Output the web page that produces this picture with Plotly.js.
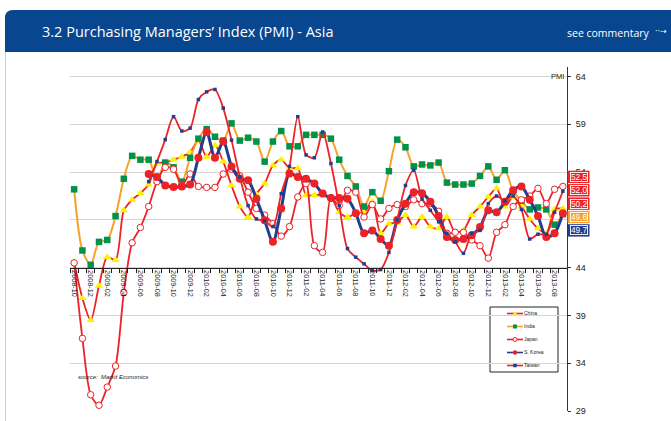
<!DOCTYPE html>
<html>
<head>
<meta charset="utf-8">
<script src="https://cdn.plot.ly/plotly-3.0.1.min.js"></script>
<style>
html,body{margin:0;padding:0;background:#ffffff;}
#chart{width:671px;height:421px;}
</style>
</head>
<body>
<div id="chart"></div>
<script>
// ---------------- DATA ----------------
const months = [
  "2008-10","2008-11","2008-12",
  "2009-01","2009-02","2009-03","2009-04","2009-05","2009-06","2009-07","2009-08","2009-09","2009-10","2009-11","2009-12",
  "2010-01","2010-02","2010-03","2010-04","2010-05","2010-06","2010-07","2010-08","2010-09","2010-10","2010-11","2010-12",
  "2011-01","2011-02","2011-03","2011-04","2011-05","2011-06","2011-07","2011-08","2011-09","2011-10","2011-11","2011-12",
  "2012-01","2012-02","2012-03","2012-04","2012-05","2012-06","2012-07","2012-08","2012-09","2012-10","2012-11","2012-12",
  "2013-01","2013-02","2013-03","2013-04","2013-05","2013-06","2013-07","2013-08","2013-09"
];

const seriesNames = ["China", "India", "Japan", "S. Korea", "Taiwan"];

const china = [44.6, 40.8, 38.5, 42.1, 45.1, 44.8, 50.0, 51.1, 51.8, 52.7,
  54.9, 55.0, 55.3, 55.6, 56.1, 57.3, 55.6, 56.8, 55.1, 52.6,
  50.4, 49.3, 51.7, 52.8, 54.7, 55.3, 54.4, 54.4, 51.6, 51.6,
  51.6, 51.4, 49.8, 49.3, 49.7, 49.8, 50.9, 47.6, 48.6, 48.7,
  49.5, 48.3, 49.3, 48.3, 48.1, 49.3, 47.7, 47.9, 49.5, 50.4,
  51.4, 52.3, 50.4, 51.4, 50.4, 49.1, 48.1, 47.6, 50.1, 50.2];

const india = [52.2, 45.8, 44.3, 46.7, 46.9, 49.4, 53.3, 55.7, 55.3, 55.3,
  53.1, 55.0, 54.5, 53.0, 55.5, 57.5, 58.5, 57.7, 57.3, 59.1,
  57.3, 57.6, 57.2, 55.1, 57.2, 58.3, 56.7, 56.7, 57.9, 57.9,
  57.9, 57.5, 55.3, 53.6, 52.5, 50.4, 51.9, 51.0, 54.1, 57.4,
  56.6, 54.6, 54.8, 54.7, 55.0, 52.9, 52.7, 52.7, 52.8, 53.6,
  54.6, 53.2, 54.2, 52.0, 51.0, 50.1, 50.3, 50.1, 48.5, 49.6];

const japan = [44.5, 36.6, 30.7, 29.6, 31.5, 33.7, 41.4, 46.6, 48.2, 50.4,
  53.0, 54.5, 54.3, 52.6, 53.8, 52.5, 52.4, 52.4, 53.8, 54.3,
  53.6, 51.9, 50.2, 49.5, 48.6, 47.3, 48.3, 51.4, 52.8, 46.3,
  45.6, 51.3, 50.5, 52.1, 51.9, 49.3, 50.6, 49.1, 50.2, 50.6,
  50.4, 51.1, 50.7, 50.7, 49.9, 47.6, 47.7, 47.7, 46.9, 46.3,
  45.0, 47.7, 48.5, 50.4, 51.1, 51.5, 52.3, 50.7, 52.2, 52.5];

const korea = [null, null, null, null, null, null, null, null, null,
  53.8, 53.5, 52.6, 52.45, 52.5, 52.7, 55.5, 58.2, 55.5, 57.2, 54.6,
  53.3, 53.15, 51.2, 48.95, 46.7, 50.2, 53.85, 53.5, 53.3, 52.8,
  51.75, 51.3, 51.3, 51.2, 49.7, 47.6, 47.9, 47.0, 46.3, 49.0,
  50.7, 51.9, 51.8, 50.9, 49.4, 47.2, 46.9, 47.0, 47.4, 48.25,
  50.0, 49.8, 50.9, 52.1, 52.5, 51.1, 49.4, 47.2, 47.6, 49.7];

const taiwan = [null, null, null, null, null, null, null, null, null,
  53.0, 55.1, 57.4, 59.8, 58.3, 58.6, 61.6, 62.4, 62.65, 60.7, 57.35,
  53.5, 50.5, 49.1, 48.9, 48.3, 51.75, 54.6, 59.8, 55.8, 55.5,
  58.2, 54.9, 50.5, 46.0, 45.1, 44.4, 43.7, 43.8, 45.6, 49.0,
  52.6, 54.2, 51.2, 50.0, 48.8, 47.6, 46.7, 45.5, 47.6, 47.9,
  50.7, 51.5, 51.0, 51.5, 50.1, 47.0, 47.5, 47.5, 49.8, 52.0];

const yTickLabels = [29, 34, 39, 44, 49, 54, 59, 64];

// end-value boxes in the order shown, top to bottom
const boxOrder = ["Japan", "Taiwan", "China", "India", "S. Korea"];

// ---------------- STYLE ----------------
const W = 671, H = 421, L = 70, R = 104, T = 67, B = 10;
const PW = W - L - R, PH = H - T - B;
const px = v => (v - L) / PW;
const py = v => (H - B - v) / PH;
const yMin = 29, yMax = 65, axisCross = 44;
const unitPx = PH / (yMax - yMin);

const RED = "#ec2227", YELLOW = "#fff200", ORANGE = "#f7a12a",
      GREEN = "#00914a", NAVY = "#223f8f", BAND = "#08468f";
const FONT = "Liberation Sans, Arial, sans-serif";

const styles = {
  "China":   {line: {color: RED, width: 1.8}, marker: {symbol: "triangle-up", size: 7.5, color: YELLOW}, lsize: 4.5},
  "India":   {line: {color: ORANGE, width: 2}, marker: {symbol: "square", size: 6.5, color: GREEN}, lsize: 4},
  "Japan":   {line: {color: RED, width: 1.8}, marker: {symbol: "circle", size: 6.5, color: "#ffffff", line: {color: RED, width: 1}}, lsize: 4},
  "S. Korea":{line: {color: NAVY, width: 3}, marker: {symbol: "circle", size: 8, color: RED}, lsize: 4.5},
  "Taiwan":  {line: {color: RED, width: 1.8}, marker: {symbol: "square", size: 3.5, color: NAVY}, lsize: 3.5}
};
const seriesData = {"China": china, "India": india, "Japan": japan, "S. Korea": korea, "Taiwan": taiwan};
const boxColors = {"Japan": RED, "Taiwan": RED, "China": RED, "India": ORANGE, "S. Korea": NAVY};

const traces = [];
seriesNames.forEach(name => {
  const s = styles[name];
  traces.push({
    type: "scatter", mode: "lines+markers", name: name,
    x: months, y: seriesData[name],
    line: Object.assign({shape: "spline", smoothing: 0.8}, s.line),
    marker: s.marker, showlegend: false, hoverinfo: "skip",
    xaxis: "x", yaxis: "y"
  });
});

// inset legend drawn on its own small axes
seriesNames.forEach((name, i) => {
  const s = styles[name];
  traces.push({type: "scatter", mode: "lines", x: [17, 33], y: [i, i], xaxis: "x2", yaxis: "y2",
    line: {color: s.line.color, width: 1.6}, showlegend: false, hoverinfo: "skip"});
  traces.push({type: "scatter", mode: "markers", x: [25], y: [i], xaxis: "x2", yaxis: "y2",
    marker: Object.assign({}, s.marker, {size: s.lsize}), showlegend: false, hoverinfo: "skip"});
});
traces.push({type: "scatter", mode: "text", x: seriesNames.map(() => 34), y: seriesNames.map((n, i) => i),
  text: seriesNames, textposition: "middle right", textfont: {family: FONT, size: 5, color: "#222"},
  xaxis: "x2", yaxis: "y2", showlegend: false, hoverinfo: "skip"});

// end value boxes (outer coloured frame + inner box with white rule)
const lastVal = name => { const a = seriesData[name]; return a[a.length - 1]; };
const boxTop = 53.5, boxGap = 1.4, boxCx = 578.5, boxW = 22, boxH = 12.4;
const boxAnn = [], boxShapes = [];
boxOrder.forEach((name, k) => {
  const yc = boxTop - k * boxGap;
  boxShapes.push({type: "rect", xref: "paper", yref: "y", layer: "above",
    x0: px(boxCx - boxW / 2), x1: px(boxCx + boxW / 2),
    y0: yc - boxH / 2 / unitPx, y1: yc + boxH / 2 / unitPx,
    fillcolor: boxColors[name], line: {width: 0}});
  boxAnn.push({
    xref: "paper", yref: "y", x: px(boxCx), y: yc,
    xanchor: "center", yanchor: "middle", showarrow: false,
    text: lastVal(name).toFixed(1).replace(".", ","),
    font: {family: FONT, size: 8.3, color: "#ffffff"},
    width: 16, height: 7.5, bgcolor: boxColors[name], bordercolor: "#ffffff", borderwidth: 0.9, borderpad: 0.3
  });
});

const layout = {
  width: W, height: H,
  margin: {l: L, r: R, t: T, b: B, pad: 0},
  paper_bgcolor: "#ffffff", plot_bgcolor: "rgba(0,0,0,0)",
  showlegend: false,
  xaxis: {
    type: "category", categoryorder: "array", categoryarray: months,
    range: [-0.5, months.length - 0.5],
    anchor: "free", position: (axisCross - yMin) / (yMax - yMin),
    showline: true, linecolor: "#222", linewidth: 1,
    ticks: "outside", ticklen: 4, tickcolor: "#222", tickwidth: 1, tickson: "boundaries",
    tickmode: "array", tickvals: months, ticktext: months.map((m, i) => i % 2 === 0 ? m : ""),
    tickangle: 90, tickfont: {family: FONT, size: 7.3, color: "#222"},
    showgrid: false, zeroline: false, fixedrange: true
  },
  yaxis: {
    range: [yMin, yMax], side: "right", anchor: "x",
    tickmode: "array", tickvals: yTickLabels, ticktext: yTickLabels.map(String),
    showgrid: true, gridcolor: "#d5d5d5", gridwidth: 1,
    showline: true, linecolor: "#333", linewidth: 1,
    ticks: "outside", ticklen: 3, tickcolor: "#333", ticklabelstandoff: 3,
    tickfont: {family: FONT, size: 9, color: "#222"},
    zeroline: false, fixedrange: true
  },
  xaxis2: {domain: [px(490), px(558)], range: [0, 68], anchor: "y2", visible: false, fixedrange: true},
  yaxis2: {domain: [py(372), py(307)], range: [4.5, -0.5], anchor: "x2", visible: false, fixedrange: true},
  shapes: [
    {type: "path", xref: "paper", yref: "paper", layer: "above",
     path: `M ${px(5)},${py(52)} L ${px(5)},${py(18)} Q ${px(5)},${py(10)} ${px(13)},${py(10)} L ${px(671)},${py(10)} L ${px(671)},${py(52)} Z`,
     fillcolor: BAND, line: {width: 0}},
    {type: "line", xref: "paper", yref: "paper", x0: px(5.5), x1: px(5.5), y0: py(52), y1: py(421),
     line: {color: "#cfcfcf", width: 1}},
    {type: "rect", xref: "x2 domain", yref: "y2 domain", x0: 0, x1: 1, y0: 0, y1: 1, layer: "below",
     fillcolor: "#ffffff", line: {color: "#222", width: 1}}
  ].concat(boxShapes),
  annotations: [
    {xref: "paper", yref: "paper", x: px(40), y: py(31), xanchor: "left", yanchor: "middle", showarrow: false,
     text: "3.2 Purchasing Managers’ Index (PMI) - Asia",
     font: {family: "Open Sans, sans-serif", size: 14.5, color: "#ffffff"}},
    {xref: "paper", yref: "paper", x: px(565), y: py(33), xanchor: "left", yanchor: "middle", showarrow: false,
     text: "see commentary", font: {family: "Open Sans, sans-serif", size: 10.5, color: "#ffffff"}},
    {xref: "paper", yref: "paper", x: px(653), y: py(31), xanchor: "left", yanchor: "middle", showarrow: false,
     text: "··→", font: {family: "DejaVu Sans, sans-serif", size: 8, color: "#ffffff"}},
    {xref: "paper", yref: "y", x: px(566), y: 64, xanchor: "right", yanchor: "middle", showarrow: false,
     text: "PMI", font: {family: FONT, size: 7.5, color: "#222"}},
    {xref: "paper", yref: "paper", x: px(76), y: py(377), xanchor: "left", yanchor: "middle", showarrow: false,
     text: "<i>source:  Markit Economics</i>", font: {family: FONT, size: 6, color: "#222"}}
  ].concat(boxAnn)
};

Plotly.newPlot("chart", traces, layout, {displayModeBar: false, staticPlot: true});
</script>
</body>
</html>
